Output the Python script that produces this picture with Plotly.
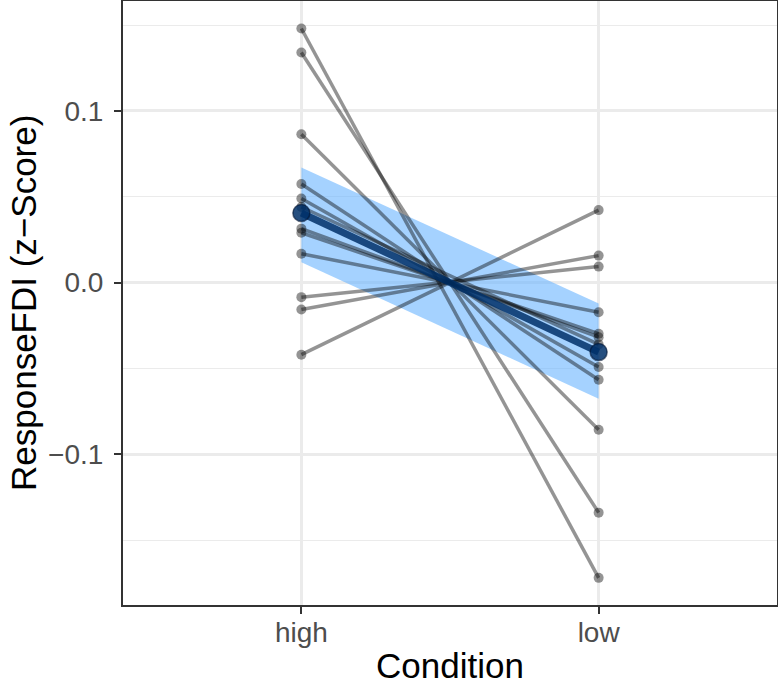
import plotly.graph_objects as go

conditions = ["high", "low"]
subject_high = [0.148, 0.134, 0.0864, 0.0574, 0.049, 0.044, 0.0314, 0.029, 0.0168, -0.0085, -0.0157, -0.042]
subject_low = [-0.172, -0.134, -0.0857, -0.0566, -0.0492, -0.036, -0.0318, -0.0298, -0.0173, 0.0093, 0.0157, 0.0422]
mean_values = [0.0405, -0.0405]
ribbon_upper = [0.067, -0.0122]
ribbon_lower = [0.0118, -0.0676]

fig = go.Figure()

# confidence ribbon
fig.add_trace(go.Scatter(
    x=conditions + conditions[::-1],
    y=ribbon_upper + ribbon_lower[::-1],
    fill="toself", fillcolor="rgba(110,182,255,0.62)",
    line=dict(width=0), mode="lines", hoverinfo="skip", showlegend=False))

# subject lines
lx, ly = [], []
for h, l in zip(subject_high, subject_low):
    lx += [conditions[0], conditions[1], None]
    ly += [h, l, None]
fig.add_trace(go.Scatter(
    x=lx, y=ly, mode="lines+markers",
    line=dict(color="rgba(0,0,0,0.42)", width=3.5),
    marker=dict(color="rgba(0,0,0,0.42)", size=10),
    showlegend=False))

# mean
fig.add_trace(go.Scatter(
    x=conditions, y=mean_values, mode="lines+markers",
    line=dict(color="rgba(0,48,105,0.85)", width=7),
    marker=dict(color="rgba(0,48,105,0.85)", size=17,
                line=dict(color="rgba(0,20,50,0.6)", width=1.5)),
    showlegend=False))

font = "Liberation Sans, Arial, Helvetica, sans-serif"
fig.update_layout(
    width=778, height=689,
    margin=dict(l=123, r=1, t=1, b=84, autoexpand=False),
    paper_bgcolor="white", plot_bgcolor="white",
    font=dict(family=font),
    xaxis=dict(
        type="category", categoryorder="array", categoryarray=conditions,
        range=[-0.6, 1.6], automargin=False,
        showgrid=True, gridcolor="#EBEBEB", gridwidth=2.5,
        showline=True, mirror=True, linecolor="#333333", linewidth=2,
        ticks="outside", ticklen=7, tickwidth=2, tickcolor="#333333",
        tickfont=dict(size=28, color="#4D4D4D"), ticklabelstandoff=-6,
        zeroline=False),
    yaxis=dict(
        range=[-0.1878, 0.164], automargin=False,
        tickmode="linear", tick0=0, dtick=0.1, tickformat=".1f",
        showgrid=True, gridcolor="#EBEBEB", gridwidth=2.5,
        minor=dict(dtick=0.05, showgrid=True, gridcolor="#EBEBEB", gridwidth=1.3),
        showline=True, mirror=True, linecolor="#333333", linewidth=2,
        ticks="outside", ticklen=7, tickwidth=2, tickcolor="#333333",
        tickfont=dict(size=28, color="#4D4D4D"), ticklabelstandoff=5,
        zeroline=False),
)
fig.add_annotation(text="Condition", xref="paper", yref="paper",
                   x=0.5, y=-(665 - 605) / 604, yanchor="middle",
                   showarrow=False, font=dict(size=35, color="black"))
fig.add_annotation(text="ResponseFDI (z−Score)", xref="paper", yref="paper",
                   x=-(123 - 23) / 654, xanchor="center", y=0.5, yanchor="middle",
                   textangle=-90, showarrow=False, font=dict(size=35, color="black"))

fig.write_html("out.html", config={"displayModeBar": False},
               post_script="document.body.style.margin='0';document.body.style.padding='0';")
